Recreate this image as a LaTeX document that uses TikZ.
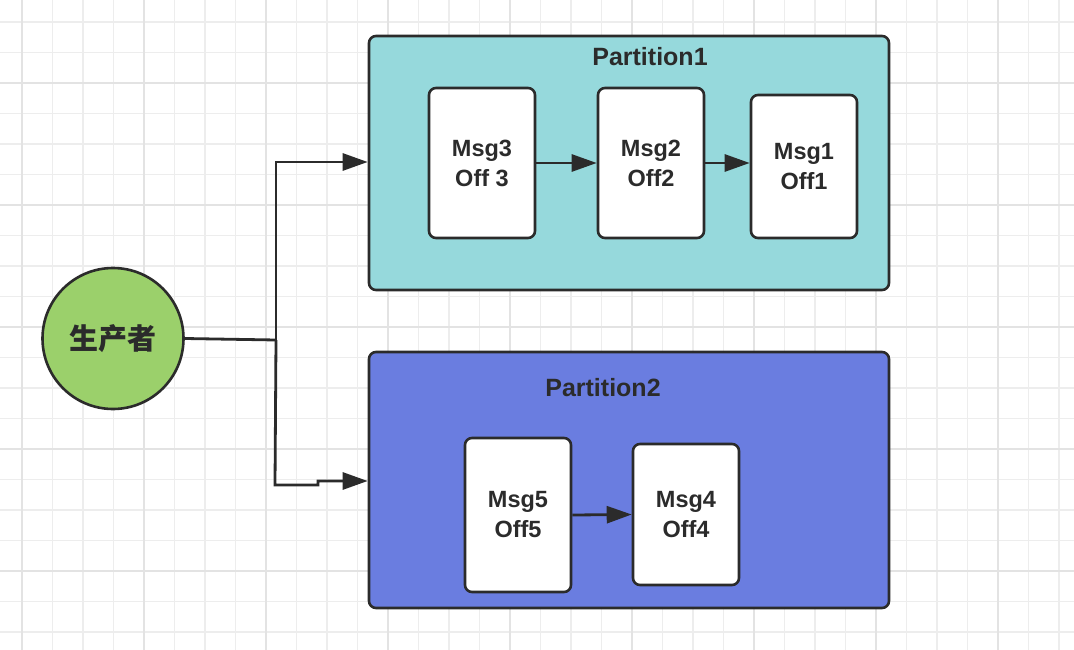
\documentclass[tikz,border=0pt]{standalone}
\usepackage{fontspec}
\setmainfont{Liberation Sans}
\newfontfamily\cjk{Noto Sans CJK SC}
\usetikzlibrary{arrows.meta}
\definecolor{ink}{HTML}{2B2B2B}
\definecolor{gridminor}{HTML}{EDEDED}
\definecolor{gridmajor}{HTML}{E3E3E3}
\definecolor{pone}{HTML}{96D9DC}
\definecolor{ptwo}{HTML}{6A7DE0}
\definecolor{prodgreen}{HTML}{9BD06B}
\tikzset{
  partbox/.style={draw=ink, line width=2.6pt, rounded corners=7pt, inner sep=0pt},
  msgbox/.style={draw=ink, fill=white, line width=2.6pt, rounded corners=7pt, minimum width=106pt, inner sep=0pt, align=center, font=\fontsize{23.5}{30}\selectfont\bfseries, text=ink},
  titletext/.style={font=\fontsize{25}{30}\selectfont\bfseries, text=ink, inner sep=0pt},
  conn/.style={draw=ink, line width=2.8pt, -{Triangle[length=25pt,width=17pt]}},
  plainconn/.style={draw=ink, line width=2.8pt},
}
\begin{document}
\begin{tikzpicture}[x=1pt,y=-1pt]
\useasboundingbox (0,0) rectangle (1074,650);
\fill[white] (0,0) rectangle (1074,650);
% grid
\foreach \i in {-4,...,36} {
  \draw[gridminor, line width=1.3pt] ({22+30.5*\i},0) -- ({22+30.5*\i},650);
}
\foreach \i in {-4,...,24} {
  \draw[gridminor, line width=1.3pt] (0,{83+30.5*\i}) -- (1074,{83+30.5*\i});
}
\foreach \i in {0,...,8} {
  \draw[gridmajor, line width=1.7pt] ({22+122*\i},0) -- ({22+122*\i},650);
}
\foreach \i in {0,...,4} {
  \draw[gridmajor, line width=1.7pt] (0,{83+122*\i}) -- (1074,{83+122*\i});
}
% partitions
\node[partbox, fill=pone, minimum width=520pt, minimum height=254pt] (P1) at (629,163) {};
\node[partbox, fill=ptwo, minimum width=520pt, minimum height=256pt] (P2) at (629,480) {};
\node[titletext] (T1) at (650,57) {Partition1};
\node[titletext] (T2) at (603,388) {Partition2};
% messages
\node[msgbox, minimum height=150pt] (M3) at (482,163) {Msg3\\Off 3};
\node[msgbox, minimum height=150pt] (M2) at (651,163) {Msg2\\Off2};
\node[msgbox, minimum height=143pt] (M1) at (804,166.5) {Msg1\\Off1};
\node[msgbox, minimum height=154pt] (M5) at (518,515) {Msg5\\Off5};
\node[msgbox, minimum height=141pt] (M4) at (686,514.5) {Msg4\\Off4};
% producer
\node[circle, draw=ink, line width=2.6pt, fill=prodgreen, minimum size=141pt, inner sep=0pt, font=\cjk\bfseries\fontsize{29}{30}\selectfont, text=ink] (prod) at (113,338.5) {生产者};
% arrows between messages
\draw[conn] (M3.east) -- (M2.west);
\draw[conn] (M2.east) -- (M1.west |- M2.east);
\draw[conn] (M5.east) -- (M4.west);
% producer connectors
\coordinate (j) at (276,340);
\coordinate (up) at (276,162);
\coordinate (dn) at (275,485);
\coordinate (jog1) at (318,485);
\coordinate (jog2) at (318,481);
\draw[plainconn] (prod.east) -- (j);
\draw[conn] (j) -- (up) -- (P1.west |- up);
\draw[conn] (j) -- (dn) -- (jog1) -- (jog2) -- (P2.west |- jog2);
\end{tikzpicture}
\end{document}
